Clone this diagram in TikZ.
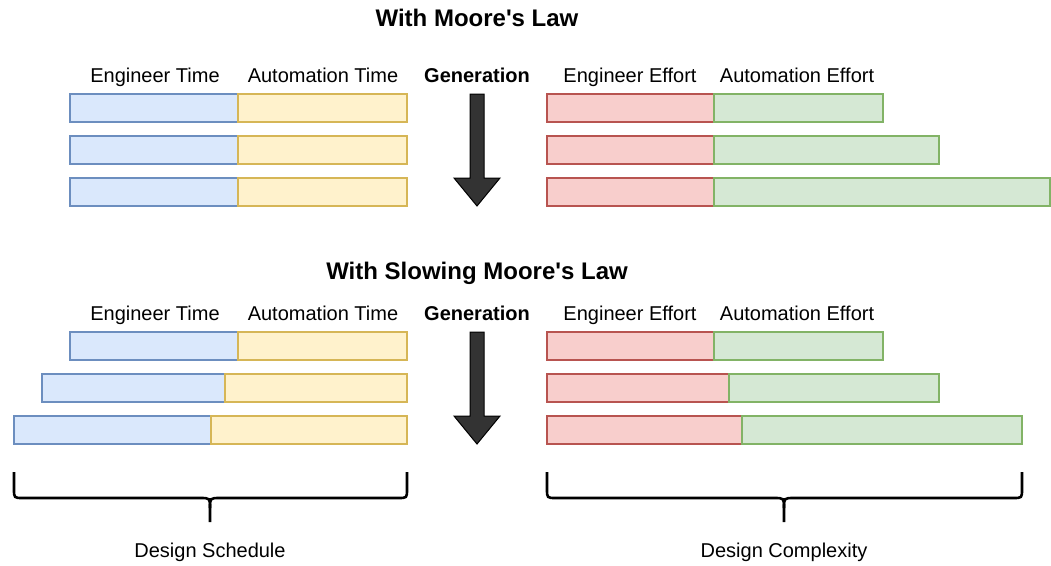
\documentclass[tikz,border=0pt]{standalone}
\usepackage{fontspec}
\setmainfont{Liberation Sans}[Ligatures=TeXOff]
\definecolor{bfill}{HTML}{DAE8FC}\definecolor{bline}{HTML}{6C8EBF}
\definecolor{yfill}{HTML}{FFF2CC}\definecolor{yline}{HTML}{D6B656}
\definecolor{rfill}{HTML}{F8CECC}\definecolor{rline}{HTML}{B85450}
\definecolor{gfill}{HTML}{D5E8D4}\definecolor{gline}{HTML}{82B366}
\definecolor{arrfill}{HTML}{333333}
\tikzset{
  bar/.style={draw, line width=1.7pt, inner sep=0pt, outer sep=0pt, minimum height=28pt, anchor=north west},
  engt/.style={bar, fill=bfill, draw=bline},
  autot/.style={bar, fill=yfill, draw=yline},
  enge/.style={bar, fill=rfill, draw=rline},
  autoe/.style={bar, fill=gfill, draw=gline},
  lbl/.style={inner sep=0pt, anchor=base, font=\fontsize{20}{24}\selectfont},
  glbl/.style={lbl, font=\fontsize{20}{24}\selectfont\bfseries},
  ttl/.style={inner sep=0pt, anchor=base, font=\fontsize{24}{28}\selectfont\bfseries},
  genarrow/.style={draw=black, line width=1pt, fill=arrfill, line join=miter},
  brace/.style={draw=black, line width=2.6pt, line cap=butt},
}
\begin{document}
\begin{tikzpicture}[x=1pt, y=-1pt]
\useasboundingbox (0,0) rectangle (1051,565);
% titles
\node[ttl] (title1) at (477,26) {With Moore's Law};
\node[ttl] (title2) at (477,279) {With Slowing Moore's Law};
% top headers
\node[lbl] (h1a) at (155,82) {Engineer Time};
\node[lbl] (h1b) at (323,82) {Automation Time};
\node[glbl] (h1c) at (477,82) {Generation};
\node[lbl] (h1d) at (630,82) {Engineer Effort};
\node[lbl] (h1e) at (797,82) {Automation Effort};
% bottom headers
\node[lbl] (h2a) at (155,320) {Engineer Time};
\node[lbl] (h2b) at (323,320) {Automation Time};
\node[glbl] (h2c) at (477,320) {Generation};
\node[lbl] (h2d) at (630,320) {Engineer Effort};
\node[lbl] (h2e) at (797,320) {Automation Effort};
% top left bars
\node[engt, minimum width=168pt] (a1) at (70,94) {};
\node[autot, minimum width=169pt] (b1) at (238,94) {};
\node[engt, minimum width=168pt] (a2) at (70,136) {};
\node[autot, minimum width=169pt] (b2) at (238,136) {};
\node[engt, minimum width=168pt] (a3) at (70,178) {};
\node[autot, minimum width=169pt] (b3) at (238,178) {};
% top right bars
\node[enge, minimum width=167pt] (c1) at (547,94) {};
\node[autoe, minimum width=169pt] (d1) at (714,94) {};
\node[enge, minimum width=167pt] (c2) at (547,136) {};
\node[autoe, minimum width=225pt] (d2) at (714,136) {};
\node[enge, minimum width=167pt] (c3) at (547,178) {};
\node[autoe, minimum width=336pt] (d3) at (714,178) {};
% bottom left bars
\node[engt, minimum width=168pt] (e1) at (70,332) {};
\node[autot, minimum width=169pt] (f1) at (238,332) {};
\node[engt, minimum width=183pt] (e2) at (42,374) {};
\node[autot, minimum width=182pt] (f2) at (225,374) {};
\node[engt, minimum width=197pt] (e3) at (14,416) {};
\node[autot, minimum width=196pt] (f3) at (211,416) {};
% bottom right bars
\node[enge, minimum width=167pt] (g1) at (547,332) {};
\node[autoe, minimum width=169pt] (k1) at (714,332) {};
\node[enge, minimum width=182pt] (g2) at (547,374) {};
\node[autoe, minimum width=210pt] (k2) at (729,374) {};
\node[enge, minimum width=195pt] (g3) at (547,416) {};
\node[autoe, minimum width=280pt] (k3) at (742,416) {};
% generation arrows
\draw[genarrow] (470,94) -- (484,94) -- (484,178) -- (500,178) -- (477,206) -- (454,178) -- (470,178) -- cycle;
\draw[genarrow] (470,332) -- (484,332) -- (484,416) -- (500,416) -- (477,444) -- (454,416) -- (470,416) -- cycle;
% braces
\draw[brace] (14,472) -- (14,489) .. controls (14,498) .. (23,498) -- (200,498) .. controls (210,498) .. (210,508) -- (210,522);
\draw[brace] (407,472) -- (407,489) .. controls (407,498) .. (398,498) -- (220,498) .. controls (210,498) .. (210,508);
\draw[brace] (547,472) -- (547,489) .. controls (547,498) .. (556,498) -- (774,498) .. controls (784,498) .. (784,508) -- (784,522);
\draw[brace] (1022,472) -- (1022,489) .. controls (1022,498) .. (1013,498) -- (794,498) .. controls (784,498) .. (784,508);
\node[lbl] (sched) at (210,557) {Design Schedule};
\node[lbl] (cplx) at (784,557) {Design Complexity};
\end{tikzpicture}
\end{document}
